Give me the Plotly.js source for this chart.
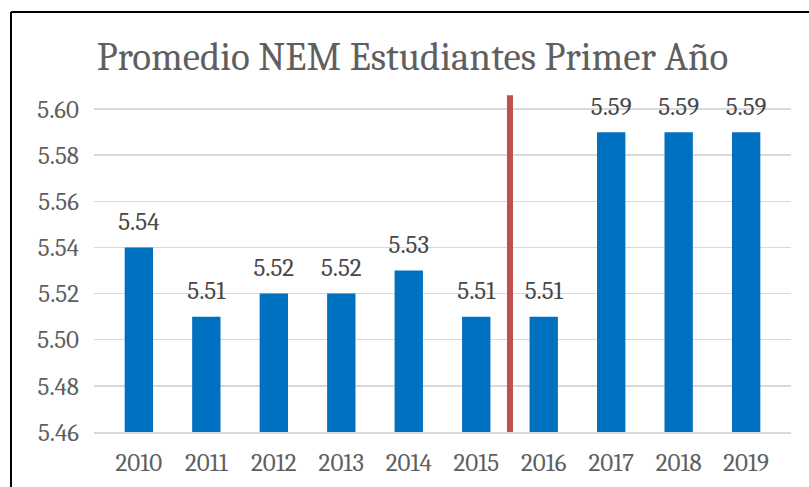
<!DOCTYPE html>
<html>
<head>
<meta charset="utf-8">
<script src="https://cdn.plot.ly/plotly-3.0.1.min.js"></script>
<style>
  html, body { margin: 0; padding: 0; background: #fff; }
  #grafico { width: 809px; height: 487px; }
</style>
</head>
<body>
<div id="grafico"></div>
<script>
// datos del grafico
var anios = ['2010', '2011', '2012', '2013', '2014', '2015', '2016', '2017', '2018', '2019'];
var promedioNEM = [5.54, 5.51, 5.52, 5.52, 5.53, 5.51, 5.51, 5.59, 5.59, 5.59];

// linea roja de corte entre 2015 y 2016
var corteAntes = '2015';
var corteDespues = '2016';
var corteTope = 5.606;

var fuente = 'Cambria, "Liberation Serif", "DejaVu Serif", serif';

// barras
var barras = {
  x: anios,
  y: promedioNEM,
  type: 'bar',
  marker: { color: '#0070C0' },
  hoverinfo: 'skip'
};

// etiquetas de valor sobre las barras
var etiquetas = {
  x: anios,
  y: promedioNEM,
  type: 'scatter',
  mode: 'markers+text',
  text: promedioNEM.map(function (v) { return v.toFixed(2); }),
  textposition: 'top center',
  textfont: { family: fuente, size: 25, color: '#474747' },
  marker: { size: 16, color: 'rgba(0,0,0,0)' },
  cliponaxis: false,
  hoverinfo: 'skip'
};

var posCorte = (anios.indexOf(corteAntes) + anios.indexOf(corteDespues)) / 2;

var layout = {
  width: 809,
  height: 487,
  margin: { l: 94, r: 18, t: 86, b: 55 },
  paper_bgcolor: '#ffffff',
  plot_bgcolor: '#ffffff',
  showlegend: false,
  bargap: 0.58,
  font: { family: fuente, color: '#595959' },
  title: {
    text: 'Promedio NEM Estudiantes Primer Año',
    font: { family: fuente, size: 39, color: '#5f5f5f' },
    x: 0.457,
    xref: 'paper',
    xanchor: 'center',
    y: 0.885,
    yref: 'container',
    yanchor: 'middle'
  },
  xaxis: {
    type: 'category',
    showgrid: false,
    zeroline: false,
    showline: true,
    linecolor: '#D9D9D9',
    linewidth: 1.5,
    ticks: '',
    ticklabelstandoff: 7,
    tickfont: { family: fuente, size: 25, color: '#5f5f5f' }
  },
  yaxis: {
    range: [5.46, 5.61],
    dtick: 0.02,
    tick0: 5.46,
    tickformat: '.2f',
    showgrid: true,
    gridcolor: '#D9D9D9',
    gridwidth: 1.5,
    zeroline: false,
    showline: false,
    ticks: '',
    ticklabelstandoff: 14,
    tickfont: { family: fuente, size: 25, color: '#5f5f5f' }
  },
  shapes: [
    {
      type: 'line',
      xref: 'x', yref: 'y',
      x0: posCorte, x1: posCorte,
      y0: 5.46, y1: corteTope,
      line: { color: '#C0504D', width: 6 }
    },
    // borde negro del recuadro
    {
      type: 'line',
      xref: 'paper', yref: 'paper',
      x0: -0.1191, x1: -0.1191,
      y0: -0.3, y1: 1.2139,
      line: { color: '#000000', width: 2 }
    },
    {
      type: 'line',
      xref: 'paper', yref: 'paper',
      x0: -0.1191, x1: 1.1,
      y0: 1.2139, y1: 1.2139,
      line: { color: '#000000', width: 2 }
    }
  ]
};

Plotly.newPlot('grafico', [barras, etiquetas], layout, { displayModeBar: false, staticPlot: true });
</script>
</body>
</html>
